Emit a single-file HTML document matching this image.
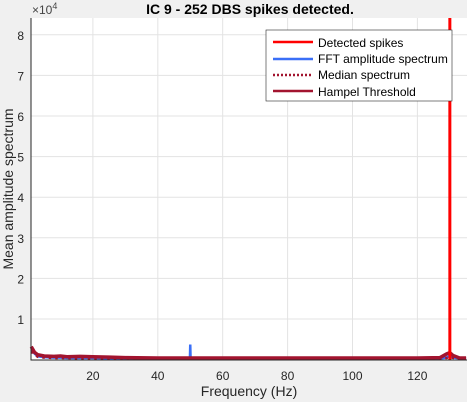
<!DOCTYPE html>
<html><head><meta charset="utf-8"><style>
body{margin:0;background:#f0f0f0;width:467px;height:402px;overflow:hidden;font-family:"Liberation Sans",sans-serif}
svg{display:block}
</style></head><body>
<svg id="chart" width="467" height="402" xmlns="http://www.w3.org/2000/svg">
<rect x="31" y="18" width="440" height="342" fill="#fff"/>
<g id="grid"></g>
<g id="series"></g>
<g id="axes"></g>
<text x="250" y="14" text-anchor="middle" font-size="14" font-weight="bold" fill="#000">IC 9 - 252 DBS spikes detected.</text>
<text x="32" y="14" font-size="12" fill="#444">×10<tspan dy="-5" font-size="9">4</tspan></text>
<text x="249" y="396" text-anchor="middle" font-size="14" fill="#262626">Frequency (Hz)</text>
<text transform="translate(13,189) rotate(-90)" text-anchor="middle" font-size="14" fill="#262626">Mean amplitude spectrum</text>
<g>
<rect x="266" y="30" width="186" height="71" fill="#fff" stroke="#262626" stroke-width="0.6"/>
<line x1="273" y1="42" x2="313" y2="42" stroke="#ff0000" stroke-width="2.5"/>
<text x="318" y="47" font-size="12">Detected spikes</text>
<line x1="273" y1="59" x2="313" y2="59" stroke="#3a6ff7" stroke-width="2.5"/>
<text x="318" y="63" font-size="12">FFT amplitude spectrum</text>
<line x1="273" y1="75" x2="313" y2="75" stroke="#a2142f" stroke-width="2.5" stroke-dasharray="2,2"/>
<text x="318" y="79" font-size="12">Median spectrum</text>
<line x1="273" y1="91" x2="313" y2="91" stroke="#a2142f" stroke-width="2.5"/>
<text x="318" y="96" font-size="12">Hampel Threshold</text>
</g>
</svg>
<script>
const xTicks=[20,40,60,80,100,120];
const yTicks=[1,2,3,4,5,6,7,8];
const freqs=[1,2,3,5,8,10,12,16,20,25,30,40,49.9,50,50.1,60,80,100,120,127,129,130,131,133,135];
const fftVals=[0.25,0.15,0.08,0.06,0.05,0.05,0.04,0.04,0.04,0.03,0.03,0.03,0.03,0.37,0.03,0.03,0.03,0.03,0.03,0.03,0.05,0.1,0.05,0.03,0.03];
const medianVals=[0.2,0.12,0.07,0.05,0.04,0.04,0.04,0.03,0.03,0.03,0.03,0.03,0.03,0.03,0.03,0.03,0.03,0.03,0.03,0.03,0.04,0.06,0.04,0.03,0.03];
const hampelVals=[0.32,0.18,0.12,0.09,0.08,0.09,0.07,0.08,0.07,0.06,0.05,0.04,0.04,0.04,0.04,0.04,0.04,0.04,0.04,0.05,0.14,0.17,0.1,0.04,0.04];
const spikeFreq=[130];
const spikeVals=[8.6];
const X=f=>28+(f)*3.245, Y=v=>359.6-v*40.6;
const ns="http://www.w3.org/2000/svg";
function mk(p,t,a){const e=document.createElementNS(ns,t);for(const k in a)e.setAttribute(k,a[k]);p.appendChild(e);return e;}
const grid=document.getElementById('grid'),ax=document.getElementById('axes'),se=document.getElementById('series');
xTicks.forEach(t=>{const l=mk(grid,'line',{x1:X(t),x2:X(t),y1:18,y2:360,stroke:'#e3e3e3','stroke-width':1});


const tx=mk(ax,'text',{x:X(t),y:380,'text-anchor':'middle','font-size':12,fill:'#262626'});tx.textContent=t;

});
yTicks.forEach(t=>{const l=mk(grid,'line',{x1:31,x2:467,y1:Y(t),y2:Y(t),stroke:'#e3e3e3','stroke-width':1});


const tx=mk(ax,'text',{x:24,y:Y(t)+5,'text-anchor':'end','font-size':12,fill:'#262626'});tx.textContent=t;

});
const axl=mk(ax,'path',{d:'M31,18V360H467',fill:'none',stroke:'#262626','stroke-width':1});


const pts=v=>freqs.map((f,i)=>X(f)+','+Y(v[i])).join(' ');
const s1=mk(se,'polyline',{points:pts(fftVals),fill:'none',stroke:'#3a6ff7','stroke-width':2.5});


const s2=mk(se,'polyline',{points:pts(medianVals),fill:'none',stroke:'#a2142f','stroke-width':2.5,'stroke-dasharray':'2.5,4'});


const s3=mk(se,'polyline',{points:pts(hampelVals),fill:'none',stroke:'#a2142f','stroke-width':3.5,'stroke-linejoin':'round'});


spikeFreq.forEach((f,i)=>{const l=mk(se,'line',{x1:X(f),x2:X(f),y1:Y(0),y2:Math.max(18,Y(spikeVals[i])),stroke:'#ff0000','stroke-width':3});

});
</script>
</body></html>
